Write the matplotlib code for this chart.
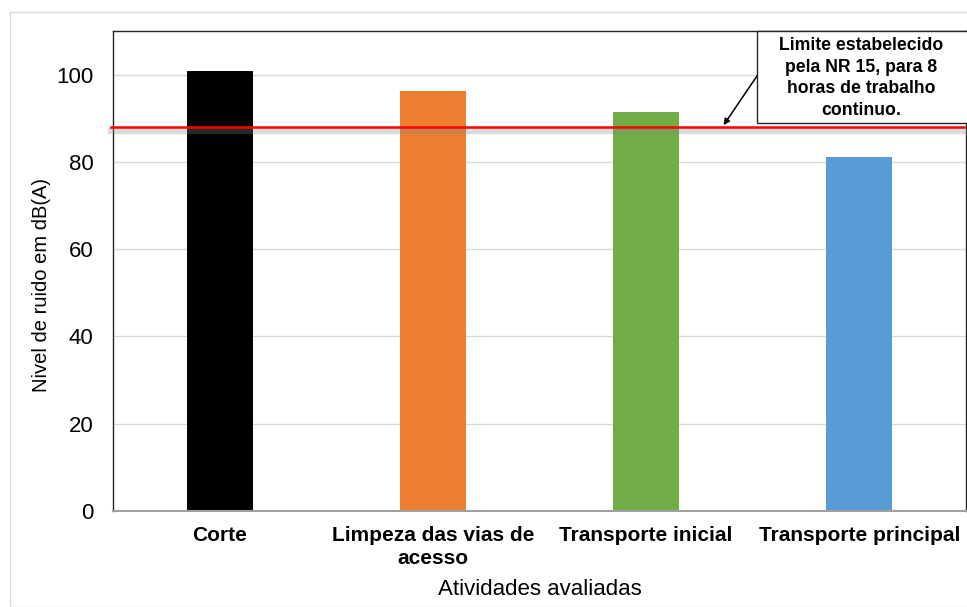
import matplotlib
matplotlib.use("Agg")
import matplotlib.pyplot as plt
import matplotlib.patheffects as pe
from matplotlib.patches import Rectangle

plt.rcParams['font.family'] = ['Liberation Sans', 'DejaVu Sans']

atividades = ['Corte', 'Limpeza das vias de\nacesso', 'Transporte inicial', 'Transporte principal']
nivel_db = [100.8, 96.3, 91.5, 81.2]
cores = ['#000000', '#ED7D31', '#70AD47', '#5B9BD5']
limite_nr15 = 87.9
texto_limite = 'Limite estabelecido\npela NR 15, para 8\nhoras de trabalho\ncontinuo.'

W, H = 967, 607
fig = plt.figure(figsize=(W / 100, H / 100), dpi=100)

# moldura externa do grafico
fig.patches.append(Rectangle((10 / W, 0), 1, 1 - 12 / H, transform=fig.transFigure,
                             fill=False, edgecolor='#d9d9d9', linewidth=1))

ax = fig.add_axes([113 / W, (H - 511) / H, (966 - 113) / W, (511 - 31) / H])
x = range(len(atividades))
ax.bar(x, nivel_db, width=0.31, color=cores, zorder=2)

ax.set_xlim(-0.5, len(atividades) - 0.5)
ax.set_ylim(0, 110)
ax.set_yticks([0, 20, 40, 60, 80, 100])
ax.grid(axis='y', color='#d9d9d9', linewidth=1, zorder=0)
ax.set_axisbelow(True)
ax.tick_params(axis='y', length=0, pad=14, labelsize=16)
ax.tick_params(axis='x', length=0, pad=11)
ax.set_xticks(list(x))
ax.set_xticklabels(atividades, fontsize=15, fontweight='bold', linespacing=1.25)

for s in ['left', 'top', 'right']:
    ax.spines[s].set_color('#262626')
    ax.spines[s].set_linewidth(1)
ax.spines['bottom'].set_color('#a0a0a0')
ax.spines['bottom'].set_linewidth(1.5)

ax.set_xlabel('Atividades avaliadas', fontsize=16, labelpad=8)
ax.set_ylabel('Nivel de ruido em dB(A)', fontsize=14.5)
ax.yaxis.set_label_coords(-0.073, 0.47)

# linha do limite da NR 15 com sombra
ax.plot([-0.51, 3.49], [limite_nr15, limite_nr15], color='#ff0000', linewidth=1.8, zorder=3,
        clip_on=False,
        path_effects=[pe.SimpleLineShadow(offset=(0, -2.5), shadow_color='#888888', alpha=0.3,
                                          linewidth=4.5), pe.Normal()])

# caixa de texto
fig.patches.append(Rectangle((757 / W, 1 - 123 / H), 1, (123 - 31) / H,
                             transform=fig.transFigure, facecolor='white',
                             edgecolor='#262626', linewidth=1, zorder=5))
fig.text(861 / W, 1 - 78 / H, texto_limite, ha='center', va='center', fontsize=12.7,
         fontweight='bold', linespacing=1.35, zorder=6)

ax.annotate('', xy=(2.356, limite_nr15), xycoords='data',
            xytext=(759 / W, 1 - 73 / H), textcoords='figure fraction',
            arrowprops=dict(arrowstyle='-|>', color='black', lw=1.1, mutation_scale=9),
            zorder=6)

fig.savefig('out.png', dpi=100)
